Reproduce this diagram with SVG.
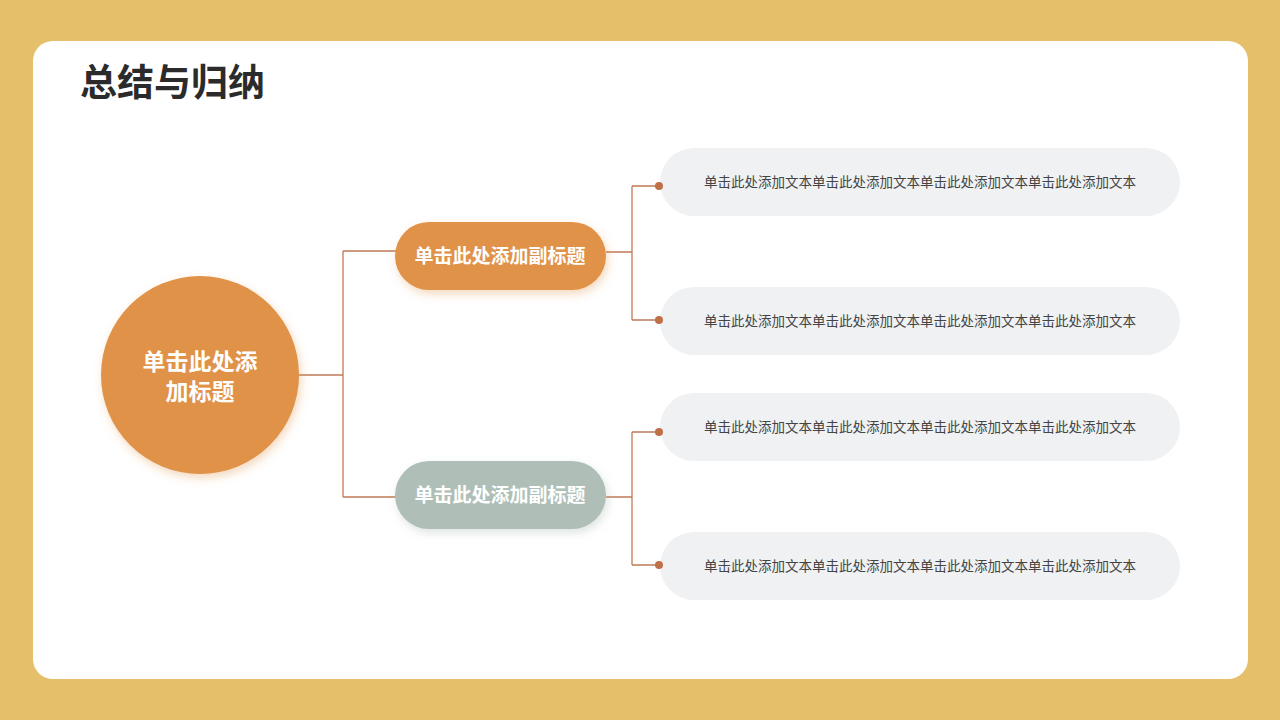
<svg xmlns="http://www.w3.org/2000/svg" width="1280" height="720" viewBox="0 0 1280 720">
<defs>
<filter id="sh" x="-20%" y="-20%" width="140%" height="150%"><feDropShadow dx="2" dy="4" stdDeviation="5" flood-color="#e09045" flood-opacity="0.35"/></filter>
<filter id="sh2" x="-20%" y="-20%" width="140%" height="150%"><feDropShadow dx="2" dy="4" stdDeviation="5" flood-color="#9fb3a8" flood-opacity="0.35"/></filter>
<style>
.t{font-family:"Noto Sans CJK SC",sans-serif}
.box{fill:#f0f1f3}
.bt{font-size:13.5px;fill:#444;text-anchor:middle}
.ln{stroke:#c07a55;stroke-width:1.3;fill:none}
.dot{fill:#c07048}
</style>
</defs>
<rect width="1280" height="720" fill="#e6bf6b"/>
<rect x="33" y="41" width="1215" height="638" rx="20" fill="#fff"/>
<text class="t" x="80" y="96" font-size="37" font-weight="bold" fill="#2b2b2b">总结与归纳</text>
<g id="b1"><rect class="box" x="660" y="148" width="520" height="68" rx="34"/><text class="t bt" x="920" y="187">单击此处添加文本单击此处添加文本单击此处添加文本单击此处添加文本</text></g>
<g id="b2"><rect class="box" x="660" y="287" width="520" height="68" rx="34"/><text class="t bt" x="920" y="326">单击此处添加文本单击此处添加文本单击此处添加文本单击此处添加文本</text></g>
<g id="b3"><rect class="box" x="660" y="393" width="520" height="68" rx="34"/><text class="t bt" x="920" y="432">单击此处添加文本单击此处添加文本单击此处添加文本单击此处添加文本</text></g>
<g id="b4"><rect class="box" x="660" y="532" width="520" height="68" rx="34"/><text class="t bt" x="920" y="571">单击此处添加文本单击此处添加文本单击此处添加文本单击此处添加文本</text></g>
<g id="connectors">
<path class="ln" d="M299 375H343M343 251V497M343 251H396M343 497H396"/>
<path class="ln" d="M606 252H632M632 186V320M632 186H659M632 320H659"/>
<path class="ln" d="M606 497H632M632 432V565M632 432H659M632 565H659"/>
<circle class="dot" cx="659" cy="186" r="4"/><circle class="dot" cx="659" cy="320" r="4"/>
<circle class="dot" cx="659" cy="432" r="4"/><circle class="dot" cx="659" cy="565" r="4"/>
</g>
<g id="main"><circle cx="200" cy="375" r="99" fill="#e09248" filter="url(#sh)"/>
<text class="t" x="200" y="370" font-size="23" font-weight="bold" fill="#fff" text-anchor="middle">单击此处添</text>
<text class="t" x="200" y="400" font-size="23" font-weight="bold" fill="#fff" text-anchor="middle">加标题</text></g>
<g id="sub1"><rect x="395" y="222" width="211" height="68" rx="34" fill="#e09248" filter="url(#sh)"/>
<text class="t" x="500" y="263" font-size="19" font-weight="bold" fill="#fff" text-anchor="middle">单击此处添加副标题</text></g>
<g id="sub2"><rect x="395" y="461" width="211" height="68" rx="34" fill="#afbfb7" filter="url(#sh2)"/>
<text class="t" x="500" y="502" font-size="19" font-weight="bold" fill="#fff" text-anchor="middle">单击此处添加副标题</text></g>
</svg>
